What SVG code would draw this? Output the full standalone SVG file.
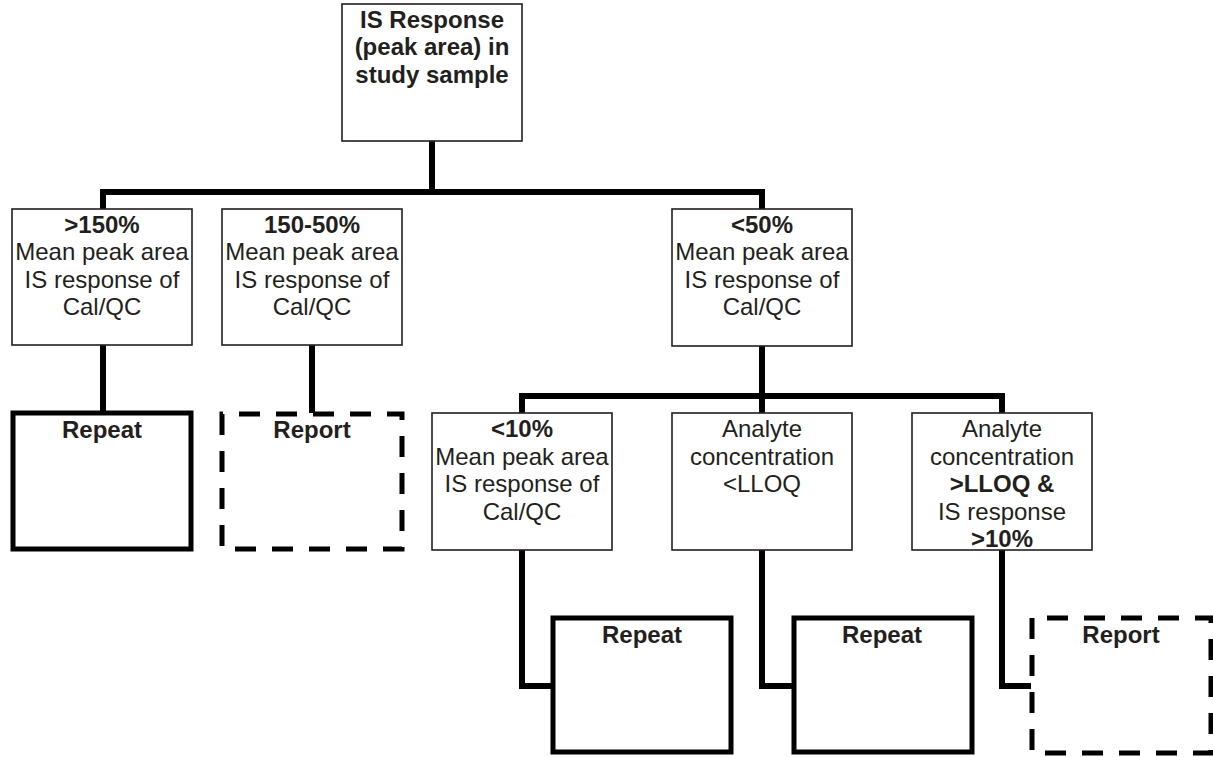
<svg xmlns="http://www.w3.org/2000/svg" width="1213" height="757" viewBox="0 0 1213 757">
<style>
.box{fill:#fff;stroke:#231f20;stroke-width:1.6}
.res{fill:#fff;stroke:#000;stroke-width:5}
.dash{fill:#fff;stroke:#000;stroke-width:5;stroke-dasharray:21 16}
.con{fill:none;stroke:#000;stroke-width:6;stroke-linejoin:miter;stroke-linecap:butt}
text{font-family:"Liberation Sans",Arial,sans-serif;font-size:24px;fill:#231f20;text-anchor:middle}
.b{font-weight:bold}
</style>
<rect width="1213" height="757" fill="#fff"/>
<g id="connectors">
<path class="con" d="M432,141 V192"/>
<path class="con" d="M103,209 V192 H762 V209"/>
<path class="con" d="M103,345 V413"/>
<path class="con" d="M312,345 V413"/>
<path class="con" d="M762,346 V413"/>
<path class="con" d="M522,413 V396 H1002 V413"/>
<path class="con" d="M522,550 V686 H551"/>
<path class="con" d="M762,550 V686 H792"/>
<path class="con" d="M1002,550 V686 H1031"/>
</g>
<g id="root">
<rect class="box" x="342" y="4" width="180" height="137"/>
<text class="b" x="432" y="28">IS Response</text>
<text class="b" x="432" y="55">(peak area) in</text>
<text class="b" x="432" y="83">study sample</text>
</g>
<g id="gt150">
<rect class="box" x="12" y="209" width="180" height="136"/>
<text class="b" x="102" y="233">&gt;150%</text>
<text x="102" y="260">Mean peak area</text>
<text x="102" y="288">IS response of</text>
<text x="102" y="315">Cal/QC</text>
</g>
<g id="mid150_50">
<rect class="box" x="222" y="209" width="180" height="136"/>
<text class="b" x="312" y="233">150-50%</text>
<text x="312" y="260">Mean peak area</text>
<text x="312" y="288">IS response of</text>
<text x="312" y="315">Cal/QC</text>
</g>
<g id="lt50">
<rect class="box" x="672" y="209" width="180" height="137"/>
<text class="b" x="762" y="233">&lt;50%</text>
<text x="762" y="260">Mean peak area</text>
<text x="762" y="288">IS response of</text>
<text x="762" y="315">Cal/QC</text>
</g>
<g id="repeat1">
<rect class="res" x="13" y="413" width="178" height="136"/>
<text class="b" x="102" y="438">Repeat</text>
</g>
<g id="report1">
<path class="dash" d="M222,414 V549 H402 V414 Z"/>
<text class="b" x="312" y="438">Report</text>
</g>
<g id="lt10">
<rect class="box" x="432" y="413" width="180" height="137"/>
<text class="b" x="522" y="437">&lt;10%</text>
<text x="522" y="465">Mean peak area</text>
<text x="522" y="492">IS response of</text>
<text x="522" y="520">Cal/QC</text>
</g>
<g id="ltlloq">
<rect class="box" x="672" y="413" width="180" height="137"/>
<text x="762" y="437">Analyte</text>
<text x="762" y="465">concentration</text>
<text x="762" y="492">&lt;LLOQ</text>
</g>
<g id="gtlloq">
<rect class="box" x="912" y="413" width="180" height="137"/>
<text x="1002" y="437">Analyte</text>
<text x="1002" y="465">concentration</text>
<text class="b" x="1002" y="492">&gt;LLOQ &amp;</text>
<text x="1002" y="520">IS response</text>
<text class="b" x="1002" y="547">&gt;10%</text>
</g>
<g id="repeat2">
<rect class="res" x="553" y="618" width="178" height="134"/>
<text class="b" x="642" y="643">Repeat</text>
</g>
<g id="repeat3">
<rect class="res" x="794" y="618" width="178" height="134"/>
<text class="b" x="882" y="643">Repeat</text>
</g>
<g id="report2">
<path class="dash" d="M1032,618 V753 H1211 V618 Z"/>
<text class="b" x="1121" y="643">Report</text>
</g>
</svg>
